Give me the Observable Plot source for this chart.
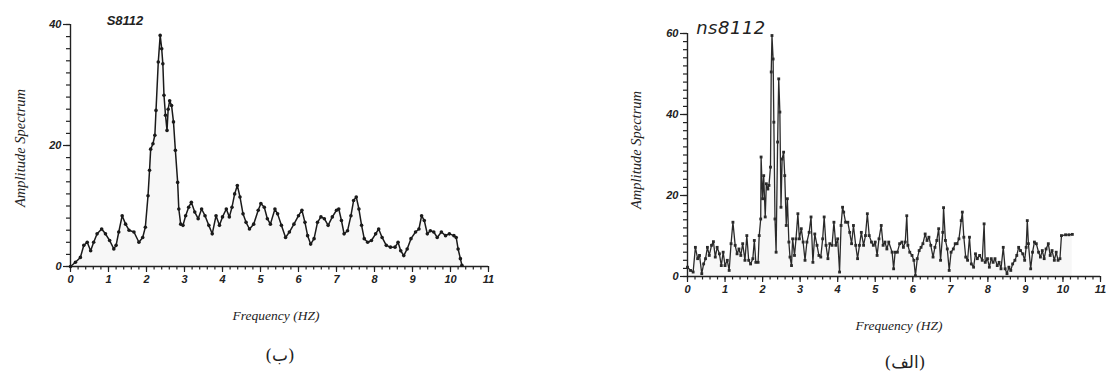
<!DOCTYPE html>
<html>
<head>
<meta charset="utf-8">
<script src="https://cdn.jsdelivr.net/npm/d3@7"></script>
<script src="https://cdn.jsdelivr.net/npm/@observablehq/plot@0.6"></script>
<style>
  html, body { margin: 0; padding: 0; background: #fff; }
  #wrap { position: relative; width: 1107px; height: 378px; overflow: hidden; background: #fff; }
  .abs { position: absolute; }
  .lbl { position: absolute; transform: translate(-50%, -50%); white-space: nowrap; color: #222; }
  .serif { font-family: "Liberation Serif", "DejaVu Serif", serif; font-style: italic; }
  .cap { font-family: "DejaVu Serif", "DejaVu Sans", serif; font-size: 17px; color: #222; }
</style>
</head>
<body>
<div id="wrap">
  <div id="plotB" class="abs" style="left:0px;top:0px"></div>
  <div id="plotA" class="abs" style="left:600px;top:0px"></div>
  <div class="lbl" style="left:125px;top:20px;font-family:'Liberation Sans',sans-serif;font-style:italic;font-weight:bold;font-size:13px">S8112</div>
  <div class="lbl" style="left:731px;top:27px;font-family:'DejaVu Sans',sans-serif;font-style:italic;font-size:18px;letter-spacing:0.5px">ns8112</div>
  <div class="lbl serif" style="left:20px;top:148px;font-size:14.5px;transform:translate(-50%,-50%) rotate(-90deg)">Amplitude Spectrum</div>
  <div class="lbl serif" style="left:636px;top:150px;font-size:14.5px;transform:translate(-50%,-50%) rotate(-90deg)">Amplitude Spectrum</div>
  <div class="lbl serif" style="left:276px;top:316px;font-size:13.5px">Frequency (HZ)</div>
  <div class="lbl serif" style="left:899px;top:326px;font-size:13.5px">Frequency (HZ)</div>
  <div class="lbl cap" style="left:280px;top:355px" dir="rtl">(ب)</div>
  <div class="lbl cap" style="left:905px;top:362px" dir="rtl">(الف)</div>
</div>
<script>
// ---- Panel (ب): S8112 ----
const freqB = [0,0.13,0.26,0.35,0.44,0.53,0.61,0.70,0.82,0.92,
1.03,1.14,1.20,1.27,1.36,1.45,1.54,1.67,1.80,1.90,
1.97,2.04,2.08,2.11,2.17,2.22,2.25,2.31,2.36,2.40,
2.43,2.46,2.50,2.54,2.57,2.61,2.66,2.71,2.76,2.82,
2.85,2.90,2.96,3.03,3.11,3.18,3.27,3.36,3.45,3.54,
3.64,3.73,3.83,3.92,4.00,4.10,4.18,4.25,4.32,4.39,
4.46,4.54,4.62,4.71,4.82,4.94,5.01,5.10,5.18,5.26,
5.38,5.45,5.55,5.66,5.76,5.88,6.00,6.09,6.17,6.24,
6.32,6.41,6.50,6.59,6.68,6.78,6.89,7.00,7.06,7.13,
7.20,7.29,7.38,7.45,7.52,7.59,7.66,7.73,7.82,7.92,
8.03,8.11,8.20,8.31,8.42,8.54,8.62,8.69,8.77,8.86,
8.96,9.08,9.17,9.24,9.31,9.39,9.47,9.56,9.65,9.76,
9.87,9.97,10.09,10.15,10.20,10.26,10.30];
const ampB = [0,0.7,1.5,3.5,4,2.6,4,5.4,6.2,5.4,
4.3,2.9,3.5,5.7,8.4,7,6,5.7,4,4.8,
6.5,11.7,15.9,19.4,20.3,21.7,25.8,33.8,38.2,36,
33.5,28.3,25,22.5,26,27.4,26.6,23.9,19.2,13.9,
9.5,7,6.8,8.4,9.8,10.6,9,7.9,9.5,8.4,
6.8,5.4,8.4,6.8,8.2,9.5,8.2,9.8,12,13.4,
11.5,8.7,7.3,6.2,7,9.3,10.4,9.8,7.9,7,
9.5,8.7,6.8,4.8,5.7,7,8.4,9.3,7.3,5.1,
3.7,4.6,7.3,8.2,7.9,6.8,8.2,9.3,9.5,7.6,
5.4,5.9,8.4,10.9,11.5,9.5,6.8,4.6,4,4.3,
5.4,6.2,4.8,3.5,3.2,3.2,4,2.6,1.8,2.9,
4.6,5.7,6.2,8.4,7.6,5.4,5.9,5.7,4.8,5.7,
5.1,5.4,5.1,4.8,2.9,1.3,0.2];

// ---- Panel (الف): ns8112 ----
const freqA = [0,0.08,0.15,0.21,0.27,0.32,0.38,0.43,0.48,0.53,
0.58,0.64,0.69,0.74,0.79,0.85,0.90,0.95,1.00,1.06,
1.11,1.16,1.21,1.27,1.32,1.37,1.42,1.47,1.53,1.58,
1.63,1.68,1.74,1.78,1.82,1.88,1.91,1.95,1.96,2.00,
2.03,2.07,2.10,2.14,2.17,2.21,2.23,2.25,2.28,2.30,
2.33,2.36,2.40,2.43,2.46,2.49,2.52,2.56,2.59,2.63,
2.66,2.70,2.73,2.77,2.80,2.85,2.89,2.94,2.98,3.03,
3.08,3.13,3.18,3.24,3.29,3.34,3.39,3.45,3.50,3.55,
3.60,3.64,3.69,3.74,3.79,3.85,3.90,3.95,4.00,4.05,
4.09,4.13,4.16,4.21,4.27,4.32,4.37,4.42,4.48,4.53,
4.58,4.63,4.69,4.74,4.79,4.84,4.90,4.95,5.00,5.05,
5.10,5.16,5.21,5.26,5.31,
5.36,5.45,5.49,5.53,5.59,5.65,5.71,5.75,5.80,5.84,
5.87,5.92,5.98,6.03,6.07,6.12,6.17,6.22,6.27,6.33,
6.38,6.43,6.48,6.54,6.59,6.64,6.69,6.74,6.80,6.82,
6.87,6.92,6.97,7.02,7.08,7.13,7.18,7.23,7.29,7.32,
7.36,7.41,7.46,7.51,7.56,7.62,7.67,7.72,7.78,7.85,
7.90,7.93,7.99,8.04,8.09,8.14,8.19,8.25,8.30,8.35,
8.41,8.46,8.51,8.56,8.61,8.66,8.72,8.77,8.82,8.87,
8.93,8.98,9.02,9.05,9.08,9.14,9.19,9.24,9.29,9.35,
9.40,9.45,9.50,9.55,9.61,9.66,9.71,9.77,9.82,9.87,
9.92,9.96,10.07,10.16,10.25];
const ampA = [2.3,1.5,1.1,7.2,4.4,5.2,0.7,3.1,4.4,7.2,
5.2,7.7,8.6,4.8,7.2,5.6,2.7,6,2.7,4,
1.5,8.1,13.4,7.7,5.6,6.8,5.2,8.1,4,10.1,
4,3.1,4.4,8.9,3.5,3.5,10.1,14.2,29.5,19.2,
24.9,14.7,22.9,21.6,22.5,27,50.5,59.5,53.7,38.1,
14.2,6,33.2,48.8,40.6,17.1,29,30.7,24.9,12.6,
19.2,8.5,4.8,2.7,9.3,5.2,9.3,15.5,9.3,11.8,
8.5,4,8.5,10.9,14.7,3.5,10.5,7.7,5.2,4.8,
9.3,14.7,7.7,4.4,8.1,7.7,13.4,7.7,9.3,1.1,
12.6,17.1,15.9,13.4,13.4,10.9,8.1,12.6,7.7,4.4,
7.7,10.9,7.7,10.1,15.5,10.1,8.5,7.7,8.5,5.2,
9.3,12.6,7.7,8.5,6.8,
8.5,6,1.9,6,6,8.1,8.5,7.2,8.5,15,
7.7,6,5.2,4,0.2,4.4,6.4,7.2,8.1,10.5,
8.9,9.7,7.7,4.8,7.2,8.9,11.8,4,10.9,17,
8.9,6.8,1.5,6,6.8,8.1,8.1,9.3,13.8,15.9,
9.7,4.8,4,9.7,3.1,2.3,5.6,4.4,5.2,4,
13,3.5,4.4,2.3,4.4,3.5,4.4,2.7,3.5,1.9,
7.2,1.9,0.7,2.3,1.5,3.1,4,5.2,7.2,6.4,
5.6,4,7.2,13.8,8.1,1.9,6,8.5,8.1,6,
4.8,6.4,4.4,6.8,8.1,5.2,6.4,4,6,4,
4.4,10.1,10.3,10.3,10.4];

// ---- Tick labels ----
const xTickLabels = [0,1,2,3,4,5,6,7,8,9,10,11];
const yTickLabelsB = [0,20,40];
const yTickLabelsA = [0,20,40,60];
const xMinorStep = 0.2;
const yMinorStep = 2;

const dataB = freqB.map((f, i) => ({f, a: ampB[i]}));
const dataA = freqA.map((f, i) => ({f, a: ampA[i]}));

function panel({data, yMax, yTicks, width, height, marginLeft, marginTop, marginRight, marginBottom, stroke, symbol, fontSize, lineWidth, r}) {
  const xMax = d3.max(xTickLabels);
  return Plot.plot({
    width, height, marginLeft, marginTop, marginRight, marginBottom,
    x: {domain: [0, xMax], label: null},
    y: {domain: [0, yMax], label: null},
    style: {background: "transparent", fontFamily: "'Liberation Sans', Arial, sans-serif", fontStyle: "italic", fontWeight: "bold", fontSize: fontSize + "px", color: "#222", overflow: "visible"},
    marks: [
      Plot.areaY(data, {x: "f", y: "a", fill: "#000", fillOpacity: 0.03}),
      Plot.ruleX([0], {stroke: "#222", strokeWidth: 1.4}),
      Plot.ruleY([0], {stroke: "#222", strokeWidth: 1.4}),
      Plot.axisY({ticks: d3.range(0, yMax + 0.001, yMinorStep), tickSize: 4, text: null, stroke: "#222", strokeWidth: 1.2}),
      Plot.axisY({ticks: yTicks, tickSize: 7, tickPadding: 2, stroke: "#222", strokeWidth: 1.2}),
      Plot.axisX({ticks: d3.range(0, xMax + 0.001, xMinorStep), tickSize: 3.5, text: null, stroke: "#222", strokeWidth: 1.2}),
      Plot.axisX({ticks: xTickLabels, tickSize: 6, tickPadding: 3, stroke: "#222", strokeWidth: 1.2}),
      Plot.line(data, {x: "f", y: "a", stroke, strokeWidth: lineWidth}),
      Plot.dot(data, {x: "f", y: "a", r, fill: stroke, stroke: "none", symbol})
    ]
  });
}

document.getElementById("plotB").append(panel({
  data: dataB, yMax: d3.max(yTickLabelsB), yTicks: yTickLabelsB,
  width: 520, height: 290, marginLeft: 70, marginTop: 24, marginRight: 32, marginBottom: 24,
  stroke: "#1a1a1a", symbol: "circle", fontSize: 11, lineWidth: 1.5, r: 1.8
}));
document.getElementById("plotA").append(panel({
  data: dataA, yMax: d3.max(yTickLabelsA), yTicks: yTickLabelsA,
  width: 500, height: 300, marginLeft: 87, marginTop: 33, marginRight: 0, marginBottom: 24,
  stroke: "#2a2a2a", symbol: "square", fontSize: 11, lineWidth: 1.3, r: 1.6
}));
</script>
</body>
</html>
